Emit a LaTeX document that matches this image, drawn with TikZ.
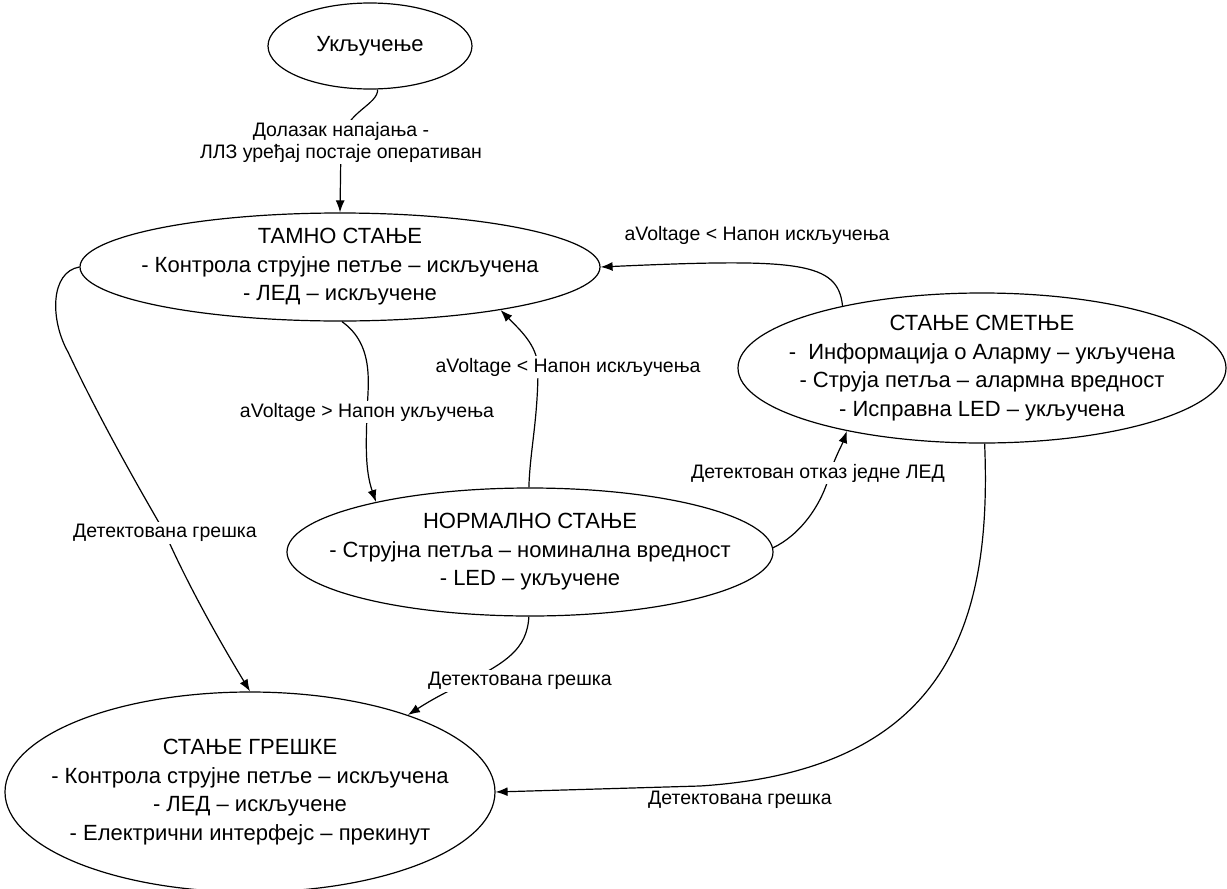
\documentclass[tikz,border=0pt]{standalone}
\usepackage{fontspec}
\setmainfont{Liberation Sans}
\usetikzlibrary{shapes.geometric,arrows.meta}
\tikzset{every path/.style={black, line width=0.6pt}, >={Latex[length=6pt,width=4.5pt]},
  state/.style={ellipse, draw, inner sep=-150pt, align=center, font=\fontsize{11}{14.25}\selectfont},
  lbl/.style={fill=white, inner sep=1pt, align=center, font=\fontsize{9.75}{11}\selectfont}}

\begin{document}
\begin{tikzpicture}[x=0.5pt,y=-0.5pt]
  \useasboundingbox (0,0) rectangle (1227,889);
  % states
  \node[state, minimum width=102pt, minimum height=43pt] (on) at (370,46) {Укључење};
  \node[state, minimum width=260pt, minimum height=54pt] (dark) at (340,267)
    {ТАМНО СТАЊЕ\\- Контрола струјне петље – искључена\\- ЛЕД – искључене};
  \node[state, minimum width=244pt, minimum height=75pt] (warn) at (982,368)
    {СТАЊЕ СМЕТЊЕ\\-\ \ Информација о Аларму – укључена\\- Струја петља – алармна вредност\\- Исправна LED – укључена};
  \node[state, minimum width=243pt, minimum height=64pt] (norm) at (530,552)
    {НОРМАЛНО СТАЊЕ\\- Струјна петља – номинална вредност\\- LED – укључене};
  \node[state, minimum width=245pt, minimum height=100pt] (err) at (250,792)
    {СТАЊЕ ГРЕШКЕ\\- Контрола струјне петље – искључена\\- ЛЕД – искључене\\- Електрични интерфејс – прекинут};
  % transitions
  \draw[->] (on.-80) .. controls (378,105) and (345,112) .. (341,142)
    node[lbl] {Долазак напајања -\\ЛЛЗ уређај постаје оперативан} -- (dark.90);
  \draw[->] (dark.-88) .. controls (375,345) and (368,385) .. (367,412)
    node[lbl] {aVoltage > Напон укључења} .. controls (366,445) and (365,470) .. (norm.162);
  \draw[->] (norm.91) .. controls (530,450) and (538,420) .. (538,367)
    node[lbl, xshift=15pt] {aVoltage < Напон искључења} .. controls (537,345) and (520,330) .. (dark.-15);
  \draw[->] (warn.156) .. controls (838,262) and (800,258) .. (dark.0)
    node[lbl] at (757,235) {aVoltage < Напон искључења};
  \draw[->] (norm.1) .. controls (800,535) and (822,505) .. (830,473)
    node[lbl, xshift=-6pt] {Детектован отказ једне ЛЕД} .. controls (836,455) and (842,445) .. (warn.-155);
  \draw[->] (dark.180) .. controls (50,272) and (50,320) .. (68,352) .. controls (100,420) and (140,490) .. (165,533)
    node[lbl] {Детектована грешка} .. controls (190,590) and (225,650) .. (err.90);
  \draw[->] (norm.-91) .. controls (527,650) and (505,662) .. (470,681)
    node[lbl, xshift=25pt] {Детектована грешка} .. controls (445,692) and (428,702) .. (err.26);
  \draw[->] (warn.-88) .. controls (992,620) and (950,770) .. (700,786) -- (err.0)
    node[lbl] at (740,800) {Детектована грешка};
\end{tikzpicture}
\end{document}
